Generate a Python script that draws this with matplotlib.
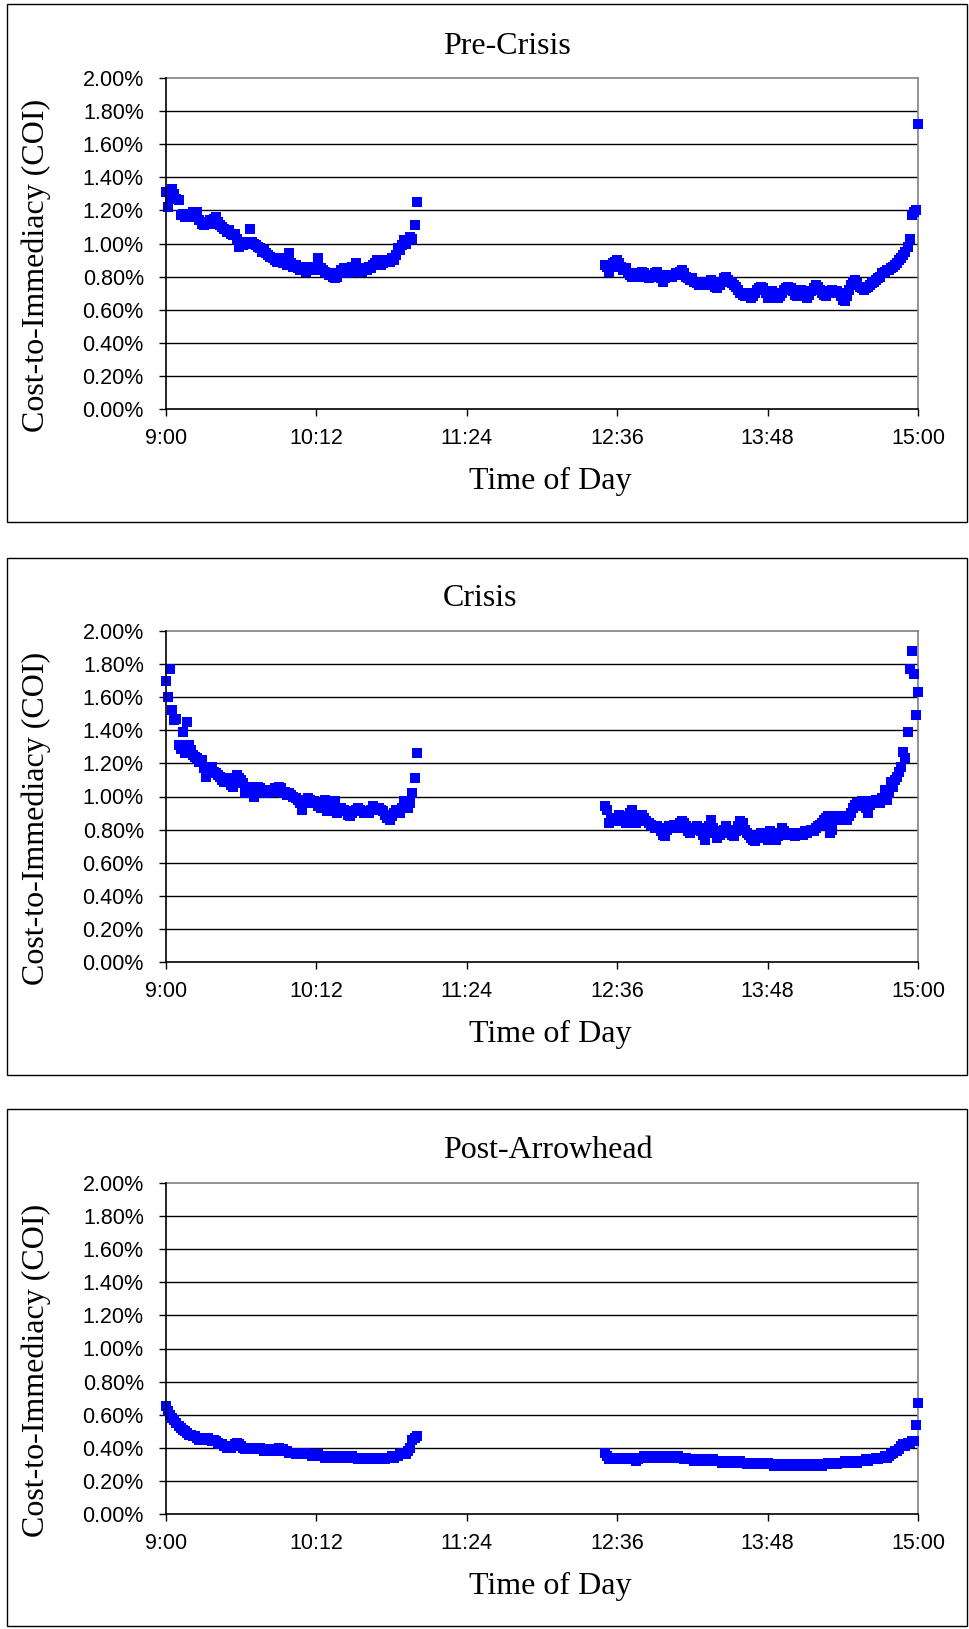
import numpy as np
import matplotlib
matplotlib.use("Agg")
import matplotlib.pyplot as plt
from matplotlib.patches import Rectangle

# ---------------------------------------------------------------- data
PANEL_TITLES = ["Pre-Crisis", "Crisis", "Post-Arrowhead"]
X_TICK_MINUTES = [540, 612, 684, 756, 828, 900]
X_TICK_LABELS = ["9:00", "10:12", "11:24", "12:36", "13:48", "15:00"]
Y_TICKS = [0.0, 0.2, 0.4, 0.6, 0.8, 1.0, 1.2, 1.4, 1.6, 1.8, 2.0]

AM_START = 540   # 9:00, one observation per minute
PM_START = 750   # 12:30, one observation per minute

# Cost-to-immediacy in percent
PRE_AM = [
    1.31, 1.22, 1.28, 1.33, 1.30, 1.27, 1.26, 1.17, 1.18, 1.16,
    1.17, 1.16, 1.17, 1.19, 1.18, 1.19, 1.14, 1.12, 1.11, 1.13,
    1.12, 1.14, 1.12, 1.15, 1.16, 1.13, 1.11, 1.10, 1.09, 1.07,
    1.08, 1.06, 1.05, 1.06, 1.03, 0.98, 1.00, 0.99, 1.01, 1.00,
    1.09, 1.01, 1.00, 0.99, 0.98, 0.97, 0.95, 0.96, 0.94, 0.93,
    0.92, 0.91, 0.90, 0.89, 0.91, 0.90, 0.88, 0.89, 0.87, 0.94,
    0.88, 0.86, 0.87, 0.85, 0.84, 0.86, 0.85, 0.83, 0.84, 0.86,
    0.85, 0.84, 0.86, 0.91, 0.85, 0.84, 0.83, 0.82, 0.81, 0.82,
    0.80, 0.79, 0.80, 0.82, 0.84, 0.85, 0.83, 0.82, 0.84, 0.86,
    0.83, 0.88, 0.85, 0.84, 0.83, 0.85, 0.84, 0.86, 0.85, 0.87,
    0.88, 0.90, 0.89, 0.87, 0.88, 0.89, 0.90, 0.89, 0.91, 0.90,
    0.93, 0.97, 0.96, 0.99, 1.02, 1.00, 1.02, 1.04, 1.03, 1.11,
    1.25,
]
PRE_PM = [
    0.87, 0.86, 0.83, 0.86, 0.88, 0.89, 0.90, 0.88, 0.86, 0.84,
    0.85, 0.82, 0.81, 0.80, 0.81, 0.82, 0.80, 0.81, 0.83, 0.82,
    0.80, 0.79, 0.80, 0.81, 0.82, 0.83, 0.81, 0.79, 0.77, 0.79,
    0.80, 0.81, 0.80, 0.81, 0.82, 0.81, 0.83, 0.84, 0.82, 0.80,
    0.79, 0.78, 0.79, 0.77, 0.76, 0.75, 0.76, 0.77, 0.76, 0.75,
    0.77, 0.78, 0.76, 0.74, 0.73, 0.75, 0.77, 0.79, 0.80, 0.78,
    0.77, 0.76, 0.75, 0.74, 0.72, 0.70, 0.69, 0.68, 0.69, 0.70,
    0.67, 0.68, 0.70, 0.72, 0.73, 0.74, 0.73, 0.70, 0.67, 0.69,
    0.71, 0.70, 0.68, 0.67, 0.68, 0.70, 0.72, 0.73, 0.74, 0.73,
    0.71, 0.69, 0.68, 0.70, 0.72, 0.70, 0.68, 0.67, 0.69, 0.71,
    0.73, 0.75, 0.74, 0.72, 0.70, 0.69, 0.68, 0.70, 0.71, 0.72,
    0.70, 0.71, 0.70, 0.68, 0.66, 0.65, 0.68, 0.72, 0.75, 0.77,
    0.78, 0.76, 0.74, 0.73, 0.72, 0.73, 0.74, 0.75, 0.76, 0.77,
    0.78, 0.79, 0.80, 0.82, 0.83, 0.84, 0.84, 0.85, 0.86, 0.87,
    0.88, 0.90, 0.91, 0.93, 0.95, 0.98, 1.03, 1.17, 1.19, 1.20,
    1.72,
]
CRISIS_AM = [
    1.70, 1.60, 1.77, 1.52, 1.46, 1.47, 1.31, 1.29, 1.39, 1.26,
    1.45, 1.31, 1.28, 1.25, 1.24, 1.23, 1.21, 1.22, 1.17, 1.12,
    1.14, 1.16, 1.18, 1.15, 1.14, 1.13, 1.12, 1.10, 1.09, 1.11,
    1.09, 1.07, 1.06, 1.08, 1.13, 1.11, 1.10, 1.08, 1.02, 1.04,
    1.03, 1.06, 1.00, 1.04, 1.06, 1.05, 1.04, 1.03, 1.02, 1.04,
    1.03, 1.04, 1.05, 1.03, 1.06, 1.05, 1.02, 1.03, 1.01, 1.02,
    1.01, 1.00, 0.99, 0.98, 0.96, 0.92, 0.98, 0.97, 0.99, 0.98,
    0.96, 0.97, 0.96, 0.94, 0.93, 0.96, 0.98, 0.91, 0.93, 0.95,
    0.96, 0.97, 0.90, 0.92, 0.93, 0.92, 0.91, 0.89, 0.88, 0.90,
    0.91, 0.92, 0.93, 0.92, 0.91, 0.90, 0.91, 0.90, 0.92, 0.94,
    0.93, 0.92, 0.93, 0.92, 0.91, 0.89, 0.87, 0.86, 0.88, 0.90,
    0.92, 0.91, 0.90, 0.93, 0.97, 0.95, 0.93, 0.96, 1.02, 1.11,
    1.26,
]
CRISIS_PM = [
    0.94, 0.92, 0.84, 0.86, 0.85, 0.87, 0.85, 0.89, 0.88, 0.86,
    0.84, 0.87, 0.90, 0.92, 0.85, 0.84, 0.86, 0.88, 0.89, 0.87,
    0.85, 0.84, 0.83, 0.82, 0.81, 0.82, 0.81, 0.79, 0.77, 0.76,
    0.80, 0.82, 0.81, 0.83, 0.82, 0.81, 0.84, 0.85, 0.84, 0.82,
    0.79, 0.78, 0.80, 0.81, 0.82, 0.81, 0.79, 0.77, 0.74, 0.78,
    0.82, 0.86, 0.81, 0.78, 0.75, 0.77, 0.79, 0.80, 0.82, 0.80,
    0.78, 0.77, 0.76, 0.79, 0.82, 0.85, 0.84, 0.80, 0.78, 0.77,
    0.75, 0.74, 0.73, 0.75, 0.76, 0.78, 0.77, 0.75, 0.74, 0.79,
    0.77, 0.75, 0.74, 0.76, 0.78, 0.81, 0.79, 0.78, 0.77, 0.78,
    0.77, 0.76, 0.78, 0.77, 0.78, 0.77, 0.79, 0.78, 0.79, 0.80,
    0.79, 0.81, 0.82, 0.83, 0.84, 0.86, 0.87, 0.88, 0.78, 0.80,
    0.86, 0.88, 0.87, 0.86, 0.88, 0.87, 0.86, 0.88, 0.90, 0.93,
    0.95, 0.96, 0.94, 0.97, 0.95, 0.93, 0.90, 0.95, 0.97, 0.96,
    0.98, 0.97, 0.96, 0.99, 1.04, 0.98, 1.02, 1.09, 1.06, 1.10,
    1.12, 1.15, 1.18, 1.27, 1.23, 1.39, 1.77, 1.88, 1.74, 1.49,
    1.63,
]
POST_AM = [
    0.65, 0.62, 0.60, 0.58, 0.57, 0.55, 0.53, 0.52, 0.51, 0.50,
    0.49, 0.48, 0.48, 0.47, 0.47, 0.46, 0.45, 0.46, 0.45, 0.46,
    0.46, 0.45, 0.44, 0.45, 0.44, 0.43, 0.42, 0.42, 0.41, 0.40,
    0.41, 0.40, 0.41, 0.42, 0.43, 0.42, 0.41, 0.40, 0.39, 0.40,
    0.39, 0.40, 0.40, 0.39, 0.40, 0.40, 0.39, 0.38, 0.39, 0.38,
    0.39, 0.39, 0.38, 0.39, 0.40, 0.39, 0.39, 0.38, 0.38, 0.37,
    0.37, 0.37, 0.36, 0.37, 0.36, 0.36, 0.37, 0.37, 0.36, 0.36,
    0.35, 0.36, 0.35, 0.36, 0.35, 0.35, 0.34, 0.35, 0.35, 0.35,
    0.34, 0.35, 0.34, 0.35, 0.35, 0.34, 0.35, 0.34, 0.35, 0.35,
    0.34, 0.34, 0.33, 0.34, 0.33, 0.33, 0.34, 0.33, 0.34, 0.33,
    0.34, 0.34, 0.33, 0.34, 0.34, 0.33, 0.34, 0.34, 0.35, 0.34,
    0.35, 0.35, 0.36, 0.36, 0.37, 0.36, 0.38, 0.40, 0.45, 0.46,
    0.47,
]
POST_PM = [
    0.37, 0.35, 0.33, 0.34, 0.33, 0.34, 0.34, 0.33, 0.34, 0.33,
    0.34, 0.33, 0.34, 0.34, 0.33, 0.32, 0.33, 0.34, 0.34, 0.35,
    0.34, 0.34, 0.35, 0.34, 0.35, 0.34, 0.34, 0.35, 0.34, 0.35,
    0.34, 0.35, 0.35, 0.34, 0.35, 0.35, 0.34, 0.34, 0.33, 0.34,
    0.33, 0.33, 0.33, 0.32, 0.33, 0.32, 0.33, 0.32, 0.32, 0.33,
    0.33, 0.32, 0.33, 0.32, 0.32, 0.32, 0.31, 0.32, 0.32, 0.31,
    0.32, 0.31, 0.31, 0.31, 0.31, 0.32, 0.31, 0.31, 0.30, 0.31,
    0.31, 0.31, 0.30, 0.31, 0.30, 0.31, 0.30, 0.30, 0.31, 0.30,
    0.30, 0.29, 0.30, 0.30, 0.29, 0.30, 0.29, 0.29, 0.30, 0.29,
    0.30, 0.29, 0.29, 0.30, 0.29, 0.30, 0.30, 0.29, 0.30, 0.30,
    0.29, 0.30, 0.30, 0.30, 0.29, 0.30, 0.30, 0.31, 0.30, 0.31,
    0.31, 0.30, 0.31, 0.31, 0.31, 0.32, 0.31, 0.32, 0.31, 0.32,
    0.32, 0.31, 0.32, 0.32, 0.32, 0.33, 0.32, 0.33, 0.33, 0.33,
    0.34, 0.33, 0.34, 0.34, 0.35, 0.34, 0.35, 0.36, 0.37, 0.38,
    0.38, 0.39, 0.41, 0.42, 0.41, 0.43, 0.43, 0.44, 0.44, 0.54,
    0.67,
]

SERIES = [(PRE_AM, PRE_PM), (CRISIS_AM, CRISIS_PM), (POST_AM, POST_PM)]

# ---------------------------------------------------------------- layout
W, H = 969, 1629
SERIF = ["Liberation Serif", "DejaVu Serif"]
SANS = ["Liberation Sans", "DejaVu Sans"]

fig = plt.figure(figsize=(W / 100, H / 100), dpi=100)
fig.patch.set_facecolor("white")


def fx(x):
    return x / W


def fy(y):
    return 1 - y / H


frames = [(4, 522), (558, 1075), (1109, 1626)]
axes_tops = [78, 631, 1183]
AX_LEFT, AX_RIGHT, AX_H = 166, 918, 331

for i, (title, (am, pm)) in enumerate(zip(PANEL_TITLES, SERIES)):
    ftop, fbot = frames[i]
    fig.patches.append(Rectangle((fx(7), fy(fbot)), fx(967) - fx(7), fy(ftop) - fy(fbot),
                                 transform=fig.transFigure, fill=False,
                                 edgecolor="black", linewidth=1.0))
    top = axes_tops[i]
    ax = fig.add_axes([fx(AX_LEFT), fy(top + AX_H), fx(AX_RIGHT) - fx(AX_LEFT), AX_H / H])
    ax.set_xlim(540, 900)
    ax.set_ylim(0, 2.0)

    for y in Y_TICKS[1:-1]:
        ax.axhline(y, color="black", linewidth=1.0, zorder=1)

    for start, vals in ((AM_START, am), (PM_START, pm)):
        t = np.arange(start, start + len(vals))
        ax.plot(t, vals, linestyle="none", marker="s", markersize=7.8,
                color="#0000FF", markeredgewidth=0, zorder=3, clip_on=False)

    ax.set_xticks(X_TICK_MINUTES)
    ax.set_xticklabels(X_TICK_LABELS)
    ax.set_yticks(Y_TICKS)
    ax.set_yticklabels([f"{v:.2f}%" for v in Y_TICKS])
    ax.tick_params(axis="both", direction="out", length=5, width=1, color="black",
                   labelsize=15.5)
    ax.tick_params(axis="y", pad=11)
    ax.tick_params(axis="x", pad=9)
    for lab in ax.get_xticklabels() + ax.get_yticklabels():
        lab.set_fontfamily(SANS)

    ax.spines["left"].set_color("black")
    ax.spines["bottom"].set_color("black")
    ax.spines["top"].set_color("#808080")
    ax.spines["right"].set_color("#808080")
    for s in ax.spines.values():
        s.set_linewidth(1.2)
    ax.spines["left"].set_zorder(4)

    fig.text(fx(443), fy(top - 32), title, ha="left", va="center",
             fontsize=23, family=SERIF)
    fig.text(fx(36), fy(top + 187), "Cost-to-Immediacy (COI)", ha="center", va="center",
             rotation=90, fontsize=23, family=SERIF)
    fig.text(fx(550), fy(top + AX_H + 72), "Time of Day", ha="center", va="center",
             fontsize=23, family=SERIF)

fig.savefig("out.png", dpi=100, facecolor="white")
